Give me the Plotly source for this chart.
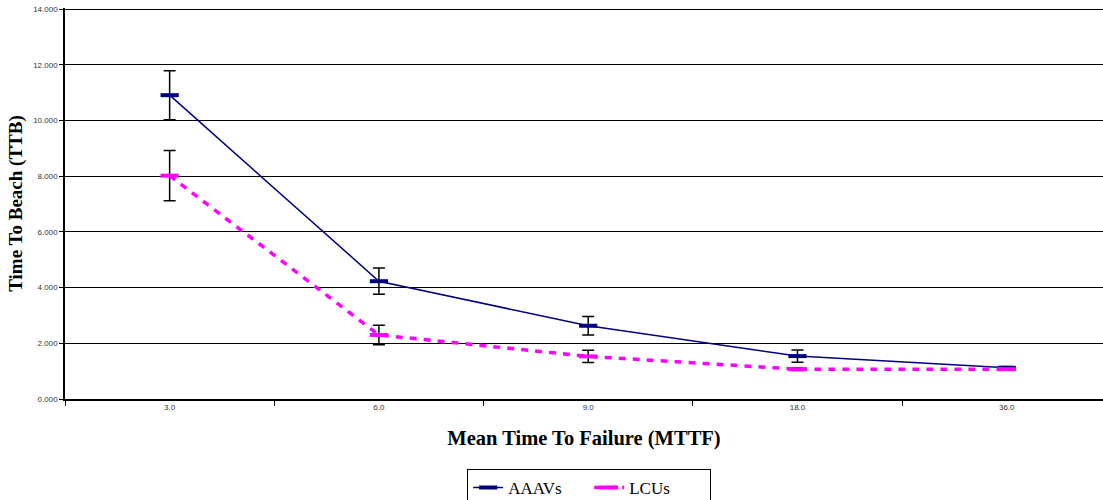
import plotly.graph_objects as go

categories = ["3.0", "6.0", "9.0", "18.0", "36.0"]
aaav_values = [10.91, 4.23, 2.63, 1.54, 1.12]
aaav_errors = [0.88, 0.47, 0.33, 0.22, 0.05]
lcu_values = [8.02, 2.30, 1.53, 1.07, 1.07]
lcu_errors = [0.90, 0.35, 0.22, 0.05, 0.03]
y_ticks = [0, 2, 4, 6, 8, 10, 12, 14]

serif = "Liberation Serif, Times New Roman, serif"
sans = "Liberation Sans, Arial, sans-serif"

fig = go.Figure()
fig.add_trace(go.Scatter(
    x=categories, y=aaav_values, name="AAAVs", mode="lines+markers",
    line=dict(color="#000080", width=1.5),
    marker=dict(symbol="line-ew-open", size=13, color="#000080",
                line=dict(color="#000080", width=4)),
    error_y=dict(type="data", array=aaav_errors, visible=True,
                 color="black", thickness=1.5, width=6),
))
fig.add_trace(go.Scatter(
    x=categories, y=lcu_values, name="LCUs", mode="lines+markers",
    line=dict(color="#FF00FF", width=3.5, dash="7px,7px"),
    marker=dict(symbol="line-ew-open", size=13, color="#FF00FF",
                line=dict(color="#FF00FF", width=4)),
    error_y=dict(type="data", array=lcu_errors, visible=True,
                 color="black", thickness=1.5, width=6),
))

fig.update_layout(
    width=1103, height=500,
    margin=dict(l=65, r=0, t=8, b=101, autoexpand=False),
    paper_bgcolor="white", plot_bgcolor="white",
    showlegend=True,
    legend=dict(orientation="h", x=0.505, xanchor="center",
                y=-0.179, yanchor="top",
                bordercolor="black", borderwidth=1,
                font=dict(family=serif, size=17, color="black"),
                entrywidth=76, entrywidthmode="pixels"),
    xaxis=dict(
        type="category", categoryorder="array", categoryarray=categories,
        range=[-0.5, 4.46], showgrid=False,
        showline=True, linecolor="black", linewidth=1.5,
        ticks="outside", tickson="boundaries", ticklen=5, tickcolor="black",
        tickfont=dict(family=sans, size=8, color="#333333"),
        title=dict(text="<b>Mean Time To Failure (MTTF)</b>",
                   font=dict(family=serif, size=20.5, color="black"), standoff=19),
    ),
    yaxis=dict(
        range=[0, 14.04], tickvals=y_ticks, tickformat=".3f",
        showgrid=True, gridcolor="black", gridwidth=1,
        showline=True, linecolor="black", linewidth=1.5,
        ticks="outside", ticklen=4, tickcolor="black",
        tickfont=dict(family=sans, size=8, color="#333333"),
        zeroline=False,
        title=dict(text="<b>Time To Beach (TTB)</b>",
                   font=dict(family=serif, size=19, color="black"), standoff=6),
    ),
)

fig.write_html("out.html", config={"displayModeBar": False},
               post_script="document.body.style.margin='0';")
